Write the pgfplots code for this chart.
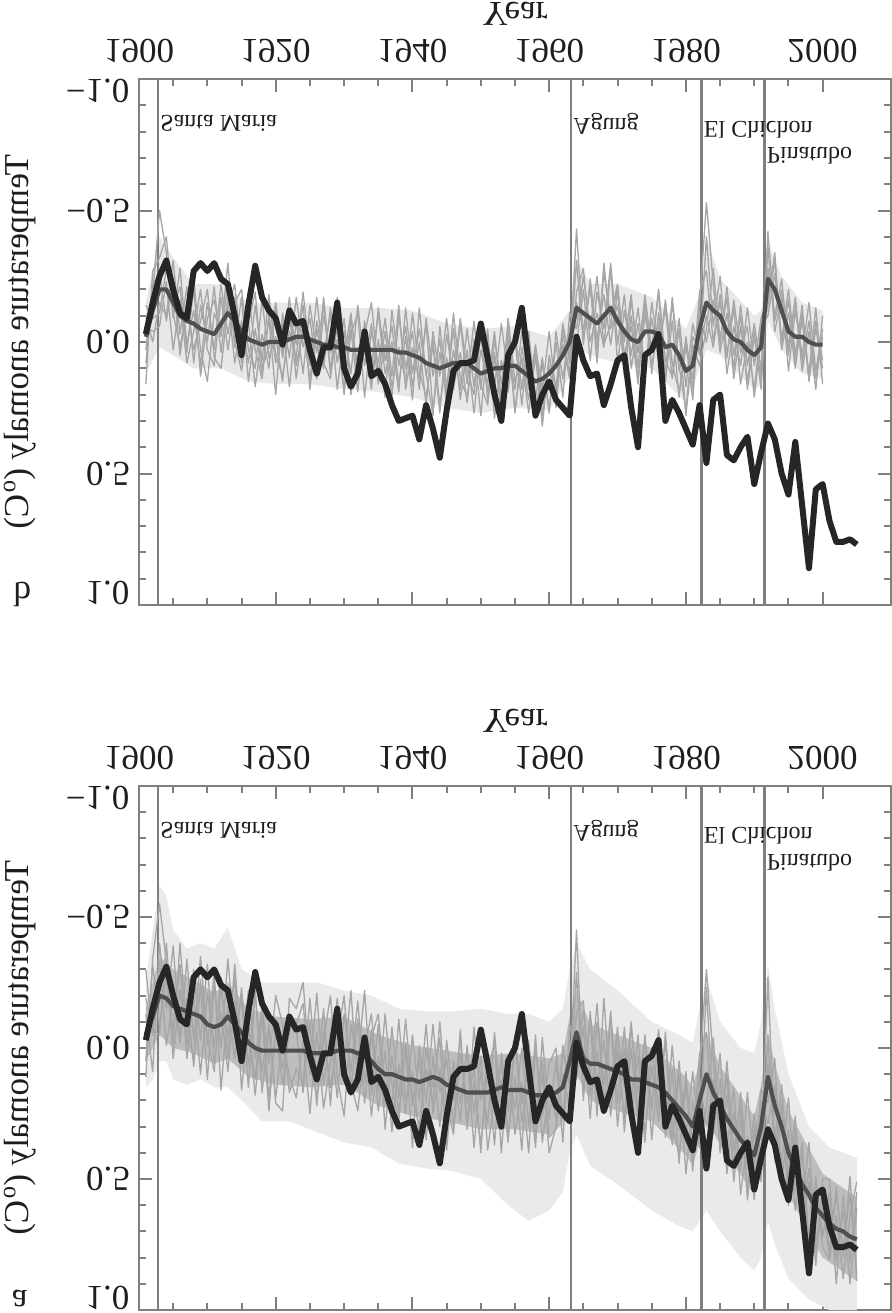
\documentclass[border=0pt]{standalone}
\usepackage{pgfplots}
\pgfplotsset{compat=1.18}
\usepackage{pgfplotstable}
\usepgfplotslibrary{fillbetween}
\usepackage{graphicx}
\usepackage{fontspec}
\setmainfont{Liberation Serif}

\definecolor{axisgray}{HTML}{7F7F7F}
\definecolor{obsc}{HTML}{262626}
\definecolor{meanc}{HTML}{4F4F4F}
\definecolor{memc}{HTML}{A6A6A6}
\definecolor{bandouter}{HTML}{EAEAEA}
\definecolor{bandinner}{HTML}{BDBDBD}
\definecolor{bandb}{HTML}{E8E8E8}
\definecolor{textc}{HTML}{1E1E1E}

% observed series (same in both panels)
\pgfplotstableread{
year obs
1901 -0.03
1902 -0.15
1903 -0.25
1904 -0.31
1905 -0.20
1906 -0.11
1907 -0.09
1908 -0.27
1909 -0.30
1910 -0.27
1911 -0.30
1912 -0.24
1913 -0.22
1914 -0.10
1915 0.05
1916 -0.14
1917 -0.29
1918 -0.17
1919 -0.12
1920 -0.09
1921 0.01
1922 -0.12
1923 -0.07
1924 -0.08
1925 0.03
1926 0.12
1927 0.02
1928 0.02
1929 -0.15
1930 0.10
1931 0.17
1932 0.12
1933 -0.04
1934 0.13
1935 0.11
1936 0.16
1937 0.24
1938 0.30
1939 0.29
1940 0.28
1941 0.37
1942 0.24
1943 0.33
1944 0.44
1945 0.26
1946 0.11
1947 0.08
1948 0.08
1949 0.07
1950 -0.07
1951 0.06
1952 0.20
1953 0.30
1954 0.05
1955 0.00
1956 -0.13
1957 0.08
1958 0.28
1959 0.20
1960 0.15
1961 0.22
1962 0.25
1963 0.28
1964 -0.02
1965 0.07
1966 0.13
1967 0.12
1968 0.24
1969 0.16
1970 0.07
1971 0.05
1972 0.25
1973 0.40
1974 0.05
1975 0.03
1976 -0.03
1977 0.30
1978 0.22
1979 0.27
1980 0.33
1981 0.39
1982 0.24
1983 0.46
1984 0.22
1985 0.20
1986 0.43
1987 0.45
1988 0.40
1989 0.36
1990 0.54
1991 0.42
1992 0.31
1993 0.37
1994 0.50
1995 0.58
1996 0.38
1997 0.62
1998 0.86
1999 0.56
2000 0.54
2001 0.68
2002 0.76
2003 0.76
2004 0.75
2005 0.77
}\obsdata

% panel b: ensemble mean and members
\pgfplotstableread{
year mean m1 m2 m3 m4 m5 m6
1901 -0.02 0.08 -0.10 0.16 -0.06 0.03 -0.14
1902 -0.12 -0.18 0.00 -0.27 -0.04 -0.22 -0.09
1903 -0.20 -0.50 -0.15 -0.32 -0.06 -0.26 -0.11
1904 -0.20 -0.34 -0.10 -0.40 -0.23 -0.08 -0.28
1905 -0.15 -0.09 -0.31 -0.11 0.03 -0.24 -0.13
1906 -0.10 -0.28 -0.03 0.02 -0.16 0.05 -0.21
1907 -0.08 0.01 -0.21 -0.12 0.08 -0.15 0.04
1908 -0.07 -0.12 0.08 -0.24 -0.04 0.03 -0.21
1909 -0.05 0.09 -0.14 0.03 -0.20 -0.08 0.13
1910 -0.04 -0.15 0.00 0.15 0.03 -0.20 -0.09
1911 -0.03 0.03 -0.21 -0.11 0.09 0.06 -0.16
1912 -0.07 -0.22 0.04 -0.04 -0.17 0.10 -0.02
1913 -0.11 -0.03 -0.17 -0.30 0.03 -0.13 -0.23
1914 -0.08 -0.17 0.08 0.02 -0.15 -0.22 0.00
1915 -0.04 0.08 -0.08 -0.17 -0.20 0.03 0.11
1916 -0.01 -0.08 0.08 0.15 0.03 -0.19 -0.07
1917 0.00 0.17 -0.14 -0.05 0.10 0.03 -0.19
1918 0.01 -0.03 0.07 0.12 -0.16 0.14 0.10
1919 0.00 0.10 -0.18 -0.09 0.06 -0.11 0.02
1920 0.00 -0.13 0.05 0.20 -0.02 0.08 -0.15
1921 0.00 0.05 0.13 -0.11 0.15 -0.07 0.06
1922 -0.01 -0.17 -0.04 0.06 -0.10 0.17 -0.11
1923 -0.02 0.09 0.06 -0.17 0.01 -0.08 0.14
1924 -0.02 -0.05 -0.19 0.02 -0.14 0.12 -0.06
1925 -0.01 0.14 0.05 -0.09 0.18 -0.14 0.09
1926 0.00 -0.08 0.14 0.12 -0.05 0.04 -0.17
1927 0.01 0.05 -0.10 -0.17 0.10 -0.14 0.08
1928 0.01 -0.11 0.04 0.10 -0.13 0.12 0.14
1929 0.02 0.18 -0.05 -0.01 0.08 -0.17 -0.07
1930 0.02 -0.04 0.20 0.17 -0.09 0.04 0.06
1931 0.03 0.12 -0.09 -0.03 0.20 -0.05 -0.11
1932 0.03 -0.14 0.10 -0.11 0.05 0.19 0.14
1933 0.02 0.09 0.00 0.21 -0.06 -0.08 -0.03
1934 0.03 -0.07 0.18 -0.04 0.16 0.09 -0.15
1935 0.03 0.16 -0.13 0.08 -0.01 -0.11 0.12
1936 0.03 0.01 0.07 -0.09 0.21 0.12 -0.04
1937 0.03 0.21 -0.06 0.13 -0.12 0.00 0.17
1938 0.04 -0.10 0.16 -0.14 0.09 0.19 0.02
1939 0.04 0.10 -0.02 0.18 -0.06 -0.13 0.15
1940 0.05 -0.04 0.22 0.02 0.17 0.12 -0.11
1941 0.06 0.18 -0.13 0.14 0.00 -0.05 0.11
1942 0.08 -0.09 0.13 -0.07 0.24 0.12 0.21
1943 0.09 0.13 -0.01 0.26 -0.04 0.28 0.01
1944 0.10 -0.01 0.24 0.04 0.13 -0.06 0.27
1945 0.09 0.24 0.06 0.20 -0.09 0.17 -0.03
1946 0.08 0.03 0.18 -0.11 0.17 -0.05 0.14
1947 0.08 0.18 -0.07 0.14 0.04 0.22 -0.09
1948 0.08 -0.05 0.16 0.21 0.23 0.03 0.11
1949 0.10 0.17 -0.08 0.01 -0.01 0.27 0.20
1950 0.12 -0.06 0.16 0.28 0.18 0.03 -0.03
1951 0.11 0.22 0.24 -0.01 -0.05 0.16 0.19
1952 0.10 0.06 -0.01 0.17 0.29 -0.04 0.04
1953 0.10 0.26 0.16 -0.07 0.07 0.22 0.24
1954 0.09 0.02 -0.05 0.13 0.19 -0.09 -0.02
1955 0.09 0.18 0.26 -0.01 -0.04 0.15 0.27
1956 0.11 -0.04 0.06 0.24 0.18 0.07 0.02
1957 0.13 0.16 0.22 -0.03 -0.04 0.27 0.18
1958 0.15 0.03 0.02 0.21 0.27 0.05 0.01
1959 0.14 0.28 0.18 0.06 0.08 0.32 0.23
1960 0.12 0.06 -0.04 0.27 0.26 0.05 0.09
1961 0.09 0.17 0.20 -0.04 0.00 0.19 0.25
1962 0.05 -0.05 0.01 0.14 0.21 -0.07 -0.03
1963 0.00 0.05 0.14 -0.06 -0.11 0.08 0.12
1964 -0.13 -0.43 -0.19 0.01 -0.05 -0.31 -0.15
1965 -0.11 -0.01 -0.28 -0.20 -0.25 0.01 -0.05
1966 -0.09 -0.22 0.00 0.07 -0.05 -0.24 -0.21
1967 -0.07 0.08 -0.11 -0.19 -0.25 -0.01 0.03
1968 -0.10 -0.30 0.02 -0.05 0.01 -0.18 -0.26
1969 -0.13 -0.05 -0.28 -0.30 -0.07 0.01 -0.10
1970 -0.08 -0.14 0.08 0.01 -0.21 -0.19 -0.22
1971 -0.04 0.09 -0.12 -0.18 0.13 0.00 0.05
1972 -0.01 -0.16 0.05 0.10 -0.10 -0.18 -0.06
1973 0.00 0.04 -0.13 -0.07 0.14 0.10 0.16
1974 -0.04 -0.16 0.11 0.14 -0.10 -0.18 -0.14
1975 -0.04 0.12 -0.09 -0.15 0.04 0.03 0.09
1976 -0.03 -0.11 0.07 0.03 -0.20 -0.19 -0.07
1977 0.02 0.12 -0.16 -0.13 0.07 0.15 0.13
1978 0.01 -0.15 0.08 0.14 0.13 -0.08 -0.17
1979 0.05 0.11 0.19 -0.05 -0.09 0.21 0.09
1980 0.11 0.00 0.02 0.28 0.17 -0.02 0.26
1981 0.09 0.22 0.14 0.01 -0.07 0.18 -0.02
1982 -0.05 -0.14 -0.19 0.09 0.05 -0.11 0.03
1983 -0.15 -0.53 -0.27 -0.05 -0.40 0.00 -0.10
1984 -0.12 -0.22 0.00 -0.28 -0.06 -0.16 0.02
1985 -0.10 0.04 -0.18 -0.01 -0.25 0.01 -0.16
1986 -0.04 -0.11 0.12 -0.17 0.05 -0.21 0.06
1987 -0.01 0.10 -0.06 0.14 -0.13 0.05 -0.16
1988 0.00 -0.14 0.09 -0.06 0.16 -0.10 0.04
1989 0.03 0.09 -0.13 0.15 0.00 0.18 -0.06
1990 0.05 -0.07 0.09 -0.04 0.18 -0.02 0.21
1991 0.02 0.11 -0.09 0.18 -0.06 0.14 -0.02
1992 -0.24 -0.42 -0.16 -0.28 -0.10 -0.36 -0.14
1993 -0.20 -0.08 -0.34 -0.10 -0.26 -0.04 -0.31
1994 -0.12 -0.20 0.03 -0.24 -0.01 -0.17 0.01
1995 -0.04 0.11 -0.11 0.02 -0.20 0.05 -0.16
1996 -0.02 -0.12 0.10 -0.17 0.05 -0.16 0.07
1997 -0.02 0.05 -0.11 0.11 -0.14 0.08 -0.08
1998 0.00 -0.15 0.14 -0.04 0.15 -0.08 0.12
1999 0.01 0.11 -0.05 0.18 -0.08 0.14 -0.13
2000 0.01 -0.05 0.10 -0.10 0.07 -0.02 0.16
}\panelB

\pgfplotstableread{
year lo hi
1901 -0.15 0.12
1903 -0.40 0.02
1905 -0.32 0.05
1908 -0.22 0.10
1912 -0.22 0.10
1916 -0.15 0.15
1920 -0.15 0.16
1925 -0.15 0.16
1930 -0.13 0.18
1935 -0.13 0.19
1940 -0.12 0.21
1945 -0.07 0.25
1950 -0.05 0.27
1955 -0.06 0.25
1960 -0.02 0.26
1963 -0.12 0.13
1964 -0.32 0.02
1966 -0.22 0.05
1970 -0.22 0.08
1975 -0.17 0.10
1980 -0.05 0.23
1982 -0.18 0.10
1983 -0.40 0.03
1985 -0.24 0.05
1990 -0.10 0.18
1991 -0.12 0.16
1992 -0.38 -0.08
1994 -0.25 0.03
1997 -0.15 0.12
2000 -0.12 0.14
}\bandB

% panel a: ensemble mean and members
\pgfplotstableread{
year mean m1 m2 m3 m4 m5
1901 -0.05 0.11 -0.30 0.05 -0.13 -0.19
1902 -0.12 -0.34 -0.05 -0.32 0.09 -0.07
1903 -0.20 -0.55 -0.33 -0.08 -0.40 -0.05
1904 -0.19 -0.33 -0.01 -0.27 -0.15 -0.40
1905 -0.16 0.04 -0.20 -0.02 -0.39 -0.06
1906 -0.15 -0.22 -0.02 -0.40 -0.03 -0.32
1907 -0.14 -0.01 -0.34 -0.06 -0.19 0.04
1908 -0.13 -0.30 -0.03 0.04 0.07 -0.20
1909 -0.12 -0.03 -0.35 -0.24 -0.26 0.10
1910 -0.09 -0.32 -0.04 0.12 -0.01 -0.21
1911 -0.08 0.06 0.09 -0.24 -0.29 -0.01
1912 -0.09 -0.14 -0.23 0.00 0.16 -0.27
1913 -0.12 0.09 -0.04 -0.34 -0.16 0.04
1914 -0.09 -0.18 -0.27 -0.04 0.04 -0.32
1915 -0.06 0.06 0.16 -0.19 -0.23 0.02
1916 -0.02 -0.22 -0.09 0.15 0.07 -0.07
1917 0.00 0.04 0.12 -0.21 -0.22 0.18
1918 0.01 -0.15 -0.16 0.09 0.17 -0.12
1919 0.01 0.19 0.06 -0.09 -0.07 0.24
1920 0.01 -0.07 -0.20 0.21 0.19 -0.08
1921 0.01 0.14 -0.09 0.24 -0.04 0.08
1922 0.01 -0.07 0.17 -0.19 0.11 -0.12
1923 0.01 -0.09 0.08 -0.15 0.19 -0.07
1924 0.01 -0.17 0.14 -0.25 -0.03 0.17
1925 0.02 0.10 -0.19 0.07 0.25 -0.10
1926 0.02 -0.21 0.11 0.18 -0.06 0.22
1927 0.02 0.14 -0.15 -0.03 0.23 -0.07
1928 0.02 -0.05 0.22 -0.20 0.06 0.15
1929 0.01 0.19 -0.11 0.11 -0.19 -0.03
1930 0.01 -0.13 0.06 0.26 0.10 -0.20
1931 0.01 0.09 -0.22 -0.09 0.17 0.13
1932 0.02 -0.18 0.16 0.06 -0.11 0.24
1933 0.03 0.13 -0.05 -0.22 0.21 0.00
1934 0.05 -0.07 0.26 0.18 -0.04 -0.13
1935 0.08 0.24 0.03 -0.09 -0.13 0.17
1936 0.10 0.01 0.22 0.31 0.15 -0.13
1937 0.10 0.32 -0.08 0.03 0.23 0.14
1938 0.11 0.06 0.19 0.25 -0.11 0.28
1939 0.12 0.25 -0.11 0.00 0.20 -0.02
1940 0.12 -0.05 0.19 0.38 0.09 0.22
1941 0.13 0.20 0.30 -0.01 0.33 0.04
1942 0.12 -0.09 0.08 0.21 0.00 0.35
1943 0.11 0.25 0.21 -0.09 0.15 0.03
1944 0.12 0.08 -0.10 0.17 -0.04 0.30
1945 0.14 0.34 0.22 0.04 0.39 -0.03
1946 0.15 0.05 0.33 0.31 0.08 0.20
1947 0.16 0.21 0.02 -0.07 0.28 -0.04
1948 0.17 0.01 0.21 0.29 -0.01 0.31
1949 0.17 0.38 0.08 0.13 0.25 -0.08
1950 0.17 0.09 0.40 0.37 0.03 0.20
1951 0.17 0.29 0.01 0.09 0.39 0.07
1952 0.16 -0.06 0.25 -0.02 0.19 0.37
1953 0.15 0.24 0.12 0.40 0.05 0.02
1954 0.16 0.03 0.36 0.07 0.33 0.24
1955 0.16 0.33 -0.05 0.23 0.11 -0.02
1956 0.16 0.13 0.21 0.00 0.39 0.28
1957 0.17 0.40 0.05 0.30 -0.03 0.13
1958 0.18 0.00 0.34 -0.05 0.25 0.38
1959 0.18 0.26 0.10 0.36 0.05 -0.04
1960 0.18 0.06 0.40 0.14 0.34 0.27
1961 0.17 0.00 0.30 0.27 0.31 0.05
1962 0.15 0.27 -0.01 0.02 0.10 0.36
1963 0.05 -0.03 0.15 0.12 0.23 -0.09
1964 -0.06 0.12 -0.29 -0.45 -0.14 0.04
1965 0.04 -0.08 0.20 0.17 -0.18 -0.14
1966 0.06 0.27 -0.14 -0.11 0.18 0.11
1967 0.06 -0.10 0.14 0.26 0.01 -0.17
1968 0.07 0.14 -0.03 -0.19 0.23 0.21
1969 0.08 -0.14 0.26 0.18 -0.12 0.16
1970 0.09 0.21 -0.05 0.01 0.30 -0.08
1971 0.10 -0.08 0.15 0.27 0.00 0.32
1972 0.12 0.26 -0.10 -0.08 0.20 0.00
1973 0.12 0.03 0.25 0.17 -0.05 0.30
1974 0.13 0.36 -0.05 -0.03 0.33 0.05
1975 0.14 0.00 0.23 0.35 0.07 0.24
1976 0.15 0.23 -0.06 0.05 0.28 -0.07
1977 0.17 -0.03 0.34 0.30 -0.06 0.24
1978 0.20 0.37 0.08 -0.01 0.29 0.36
1979 0.23 0.10 0.44 0.31 0.41 0.05
1980 0.26 0.48 0.09 0.12 0.14 0.34
1981 0.30 0.20 0.42 0.47 0.37 0.09
1982 0.20 0.38 0.12 0.08 0.02 0.33
1983 0.10 0.23 0.30 -0.30 -0.06 -0.23
1984 0.17 -0.04 0.12 0.04 0.33 0.25
1985 0.22 0.34 0.36 0.40 0.12 0.02
1986 0.27 0.10 0.05 0.18 0.48 0.39
1987 0.31 0.51 0.39 0.45 0.24 0.15
1988 0.35 0.27 0.22 0.17 0.47 0.56
1989 0.38 0.54 0.58 0.46 0.17 0.34
1990 0.41 0.29 0.32 0.25 0.46 0.58
1991 0.30 0.51 0.46 0.42 0.16 0.20
1992 0.11 0.06 -0.05 -0.27 0.21 0.29
1993 0.22 0.35 0.43 0.38 0.04 0.14
1994 0.30 0.14 0.23 0.20 0.50 0.44
1995 0.40 0.48 0.52 0.60 0.31 0.19
1996 0.46 0.26 0.28 0.33 0.62 0.55
1997 0.52 0.69 0.65 0.61 0.40 0.36
1998 0.56 0.51 0.46 0.36 0.74 0.76
1999 0.61 0.83 0.78 0.74 0.53 0.49
2000 0.64 0.50 0.60 0.56 0.76 0.72
2001 0.67 0.50 0.80 0.77 0.81 0.55
2002 0.69 0.81 0.53 0.56 0.64 0.90
2003 0.70 0.62 0.80 0.77 0.88 0.56
2004 0.72 0.90 0.49 0.56 0.64 0.82
2005 0.73 0.61 0.89 0.86 0.51 0.55
}\panelA

\pgfplotstableread{
year lo hi
1901 -0.25 0.15
1902 -0.45 0.12
1903 -0.62 0.05
1904 -0.58 0.05
1905 -0.45 0.12
1907 -0.38 0.14
1909 -0.40 0.12
1911 -0.38 0.15
1913 -0.46 0.15
1915 -0.30 0.20
1918 -0.25 0.28
1922 -0.25 0.28
1926 -0.25 0.32
1930 -0.22 0.36
1934 -0.20 0.38
1938 -0.15 0.44
1942 -0.14 0.46
1946 -0.14 0.47
1950 -0.15 0.50
1954 -0.13 0.60
1957 -0.13 0.66
1960 -0.10 0.62
1962 -0.15 0.55
1963 -0.30 0.40
1964 -0.40 0.33
1966 -0.30 0.45
1970 -0.22 0.52
1975 -0.10 0.62
1979 -0.05 0.68
1981 -0.02 0.70
1982 -0.15 0.66
1983 -0.27 0.62
1985 -0.10 0.70
1988 0.00 0.80
1990 0.02 0.85
1991 -0.10 0.80
1992 -0.32 0.66
1993 -0.15 0.75
1995 0.10 0.88
1998 0.30 0.96
2001 0.38 1.00
2005 0.42 1.00
}\bandAo

\pgfplotstableread{
year lo hi
1901 -0.15 0.05
1903 -0.35 -0.05
1905 -0.30 0.00
1908 -0.26 0.02
1911 -0.21 0.06
1913 -0.25 0.04
1916 -0.15 0.11
1920 -0.12 0.14
1925 -0.11 0.15
1930 -0.12 0.14
1935 -0.05 0.22
1940 -0.01 0.26
1945 0.01 0.28
1950 0.03 0.31
1955 0.02 0.31
1960 0.04 0.33
1962 0.02 0.29
1963 -0.12 0.20
1964 -0.22 0.10
1966 -0.09 0.20
1970 -0.05 0.24
1975 0.00 0.28
1980 0.11 0.41
1981 0.15 0.45
1982 0.05 0.36
1983 -0.06 0.27
1985 0.07 0.37
1990 0.26 0.56
1991 0.14 0.46
1992 -0.06 0.28
1993 0.06 0.38
1995 0.24 0.56
2000 0.48 0.80
2005 0.57 0.89
}\bandAi

\pgfplotsset{
  panel/.style={
    scale only axis, width=225.6pt,
    xmin=1900, xmax=2010, ymin=-1, ymax=1,
    clip mode=individual,
    xtick={1900,1920,1940,1960,1980,2000},
    xticklabels={1900,1920,1940,1960,1980,2000},
    minor x tick num=3,
    ytick={-1,-0.5,0,0.5,1},
    yticklabels={,−0.5,0.0,0.5,},
    minor y tick num=4,
    tick align=inside, tick pos=both,
    major tick length=4pt, minor tick length=2pt,
    axis line style={draw=axisgray, line width=0.75pt},
    tick style={draw=axisgray, line width=0.6pt},
    tick label style={font=\fontsize{10.5}{12}\selectfont, text=textc},
    xticklabel style={yshift=-1.3pt},
    yticklabel style={xshift=0.8pt},
    label style={font=\fontsize{10.5}{12}\selectfont, text=textc},
    xlabel={Year},
    xlabel style={at={(axis description cs:0.5,-0.1236)}, anchor=center},
    ylabel={Temperature anomaly (\textsuperscript{o}C)},
    ylabel style={at={(axis description cs:-0.1582,0.5)}, anchor=center},
    every axis plot/.append style={line join=round},
  },
  member/.style={draw=memc, line width=0.4pt},
  meanline/.style={draw=meanc, line width=1.25pt},
  obsline/.style={draw=obsc, line width=1.8pt},
  vline/.style={draw=axisgray, line width=0.75pt},
}
\tikzset{
  vtext/.style={anchor=base west, inner sep=0pt, xshift=0.5pt, font=\fontsize{7.2}{8.6}\selectfont, text=textc},
  endlab/.style={inner sep=0pt, font=\fontsize{10.5}{12}\selectfont, text=textc},
}

\begin{document}
\scalebox{1}[-1]{%
\begin{tikzpicture}
% ---------------- panel a (upper in drawing coordinates) ----------------
\begin{axis}[panel, at={(41.7pt,235.8pt)}, anchor=south west, height=157.2pt]
  \addplot[name path=aoh, draw=none, forget plot] table[x=year,y=hi]{\bandAo};
  \addplot[name path=aol, draw=none, forget plot] table[x=year,y=lo]{\bandAo};
  \addplot[fill=bandouter, draw=none] fill between[of=aoh and aol];
  \addplot[name path=aih, draw=none, forget plot] table[x=year,y=hi]{\bandAi};
  \addplot[name path=ail, draw=none, forget plot] table[x=year,y=lo]{\bandAi};
  \addplot[fill=bandinner, draw=none] fill between[of=aih and ail];
  \addplot[vline] coordinates {(1902.8,-1) (1902.8,1)};
  \addplot[vline] coordinates {(1963.2,-1) (1963.2,1)};
  \addplot[vline] coordinates {(1982.3,-1) (1982.3,1)};
  \addplot[vline] coordinates {(1991.5,-1) (1991.5,1)};
  \addplot[member] table[x=year,y=m1]{\panelA};
  \addplot[member] table[x=year,y=m2]{\panelA};
  \addplot[member] table[x=year,y=m3]{\panelA};
  \addplot[member] table[x=year,y=m4]{\panelA};
  \addplot[member] table[x=year,y=m5]{\panelA};
  \addplot[meanline] table[x=year,y=mean]{\panelA};
  \addplot[obsline] table[x=year,y=obs]{\obsdata};
  \node[vtext] at (axis cs:1902.8,-0.86) {Santa Maria};
  \node[vtext] at (axis cs:1963.2,-0.85) {Agung};
  \node[vtext] at (axis cs:1982.3,-0.84) {El Chichon};
  \node[vtext] at (axis cs:1991.5,-0.74) {Pinatubo};
  \node[endlab, anchor=base east] at (axis description cs:-0.0120,0) {−1.0};
  \node[endlab, anchor=north east] at (axis description cs:-0.0120,1) {1.0};
  \node[endlab, anchor=base west] at (axis description cs:-0.1700,0.9618) {a};
\end{axis}
% ---------------- panel b (lower in drawing coordinates) ----------------
\begin{axis}[panel, at={(41.7pt,23.7pt)}, anchor=south west, height=157.8pt]
  \addplot[name path=bh, draw=none, forget plot] table[x=year,y=hi]{\bandB};
  \addplot[name path=bl, draw=none, forget plot] table[x=year,y=lo]{\bandB};
  \addplot[fill=bandb, draw=none] fill between[of=bh and bl];
  \addplot[vline] coordinates {(1902.8,-1) (1902.8,1)};
  \addplot[vline] coordinates {(1963.2,-1) (1963.2,1)};
  \addplot[vline] coordinates {(1982.3,-1) (1982.3,1)};
  \addplot[vline] coordinates {(1991.5,-1) (1991.5,1)};
  \addplot[member] table[x=year,y=m1]{\panelB};
  \addplot[member] table[x=year,y=m2]{\panelB};
  \addplot[member] table[x=year,y=m3]{\panelB};
  \addplot[member] table[x=year,y=m4]{\panelB};
  \addplot[member] table[x=year,y=m5]{\panelB};
  \addplot[member] table[x=year,y=m6]{\panelB};
  \addplot[meanline] table[x=year,y=mean]{\panelB};
  \addplot[obsline] table[x=year,y=obs]{\obsdata};
  \node[vtext] at (axis cs:1902.8,-0.86) {Santa Maria};
  \node[vtext] at (axis cs:1963.2,-0.85) {Agung};
  \node[vtext] at (axis cs:1982.3,-0.84) {El Chichon};
  \node[vtext] at (axis cs:1991.5,-0.74) {Pinatubo};
  \node[endlab, anchor=base east] at (axis description cs:-0.0120,0) {−1.0};
  \node[endlab, anchor=north east] at (axis description cs:-0.0120,1) {1.0};
  \node[endlab, anchor=base west] at (axis description cs:-0.1676,0.958) {b};
\end{axis}
\pgfresetboundingbox
\useasboundingbox (0pt,0pt) rectangle (267.6pt,393.9pt);
\end{tikzpicture}}
\end{document}
